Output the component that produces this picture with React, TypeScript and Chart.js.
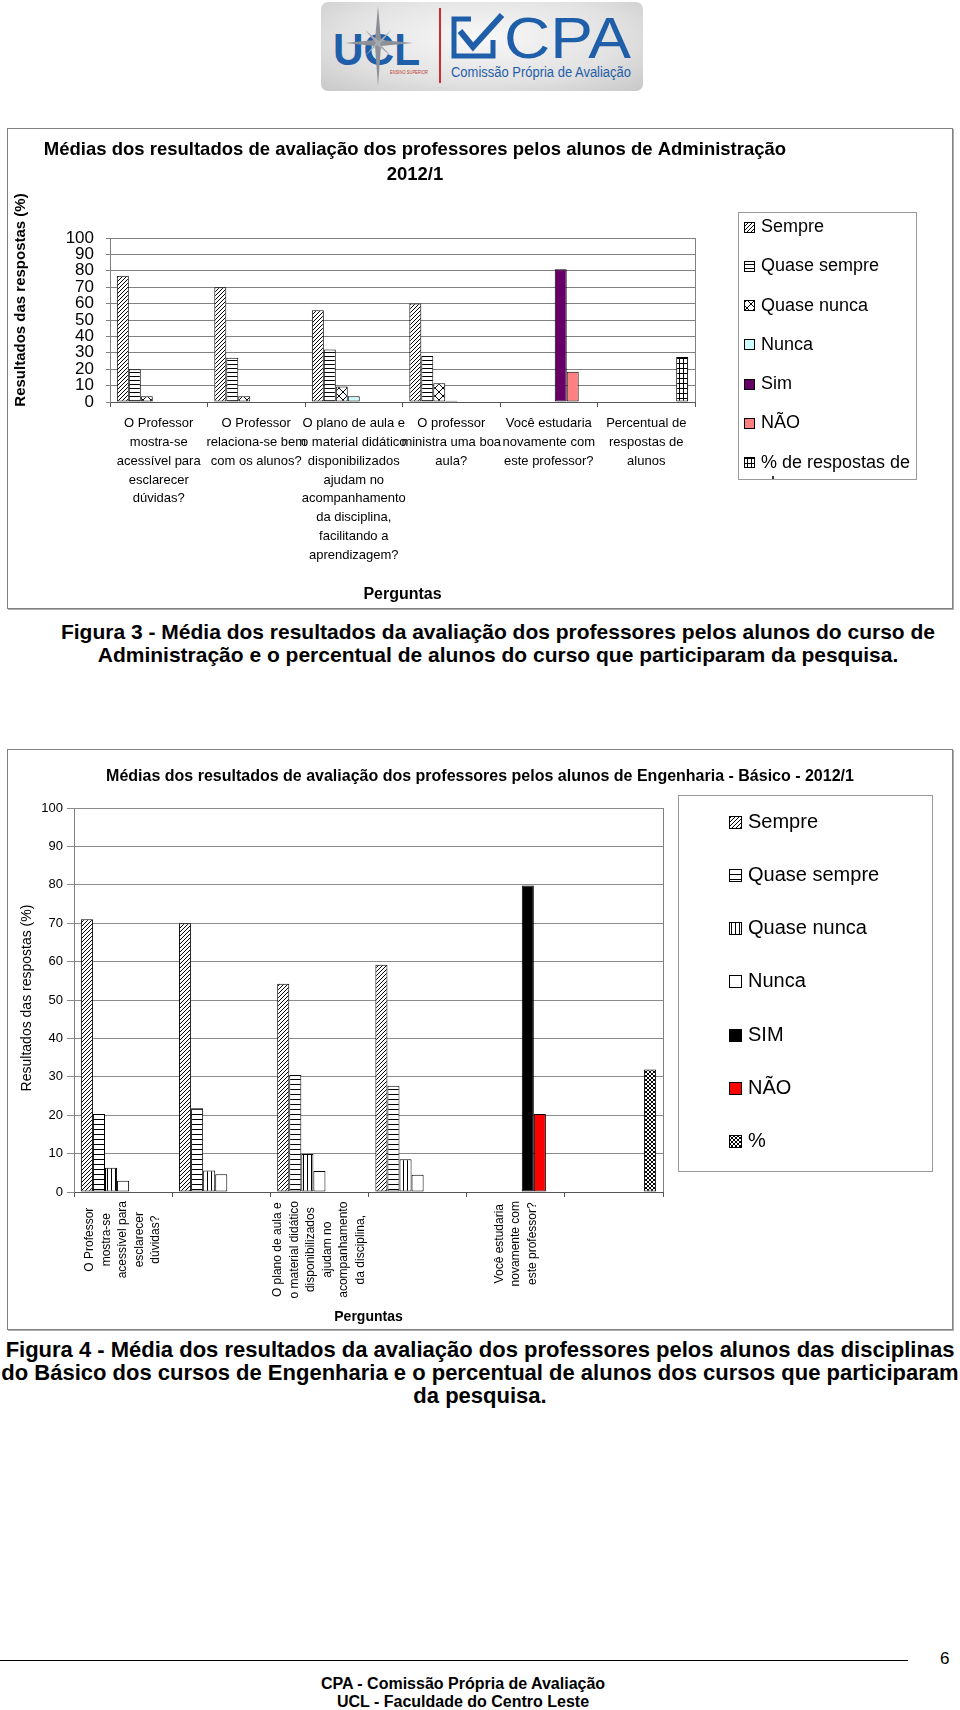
import React, { useEffect, useRef } from 'react';
import { Chart, registerables } from 'chart.js';

Chart.register(...registerables);

const FONT = "'Liberation Sans', Arial, Helvetica, sans-serif";
Chart.defaults.font.family = FONT;
Chart.defaults.color = '#000';

// ---------- Figura 3 : Administração ----------
const adminTitle = ['Médias dos resultados de avaliação dos professores pelos alunos de Administração', '2012/1'];
const adminQuestions: string[][] = [
  ['O Professor', 'mostra-se', 'acessível para', 'esclarecer', 'dúvidas?'],
  ['O Professor', 'relaciona-se bem', 'com os alunos?'],
  ['O plano de aula e', 'o material didático', 'disponibilizados', 'ajudam no', 'acompanhamento', 'da disciplina,', 'facilitando a', 'aprendizagem?'],
  ['O professor', 'ministra uma boa', 'aula?'],
  ['Você estudaria', 'novamente com', 'este professor?'],
  ['Percentual de', 'respostas de', 'alunos'],
];
const adminSeries = ['Sempre', 'Quase sempre', 'Quase nunca', 'Nunca', 'Sim', 'NÃO', '% de respostas de alunos'];
const adminSempre = [77, 70, 56, 60, null, null];
const adminQuaseSempre = [20, 27, 32, 28, null, null];
const adminQuaseNunca = [3.5, 3.5, 9.5, 11.5, null, null];
const adminNunca = [0, 0, 3.5, 0.8, null, null];
const adminSim = [null, null, null, null, 81, null];
const adminNao = [null, null, null, null, 18.5, null];
const adminPerc = [null, null, null, null, null, 27.5];

// ---------- Figura 4 : Engenharia - Básico ----------
const engTitle = ['Médias dos resultados de avaliação dos professores pelos alunos de Engenharia - Básico - 2012/1'];
const engQuestions: string[][] = [
  ['O Professor', 'mostra-se', 'acessível para', 'esclarecer', 'dúvidas?'],
  ['O Professor', 'relaciona-se bem', 'com os alunos?'],
  ['O plano de aula e', 'o material didático', 'disponibilizados', 'ajudam no', 'acompanhamento', 'da disciplina,'],
  ['O professor', 'ministra uma boa', 'aula?'],
  ['Você estudaria', 'novamente com', 'este professor?'],
  ['Percentual de', 'respostas de', 'alunos'],
];
const engShownLabels = [0, 2, 4];
const engSeries = ['Sempre', 'Quase sempre', 'Quase nunca', 'Nunca', 'SIM', 'NÃO', '%'];
const engSempre = [71, 70, 54.2, 59.2, null, null];
const engQuaseSempre = [20.3, 21.8, 30.5, 27.7, null, null];
const engQuaseNunca = [6.3, 5.6, 9.9, 8.5, null, null];
const engNunca = [2.9, 4.6, 5.5, 4.5, null, null];
const engSim = [null, null, null, null, 79.8, null];
const engNao = [null, null, null, null, 20.3, null];
const engPerc = [null, null, null, null, null, 31.9];

const yTitleText = 'Resultados das respostas (%)';
const xTitleText = 'Perguntas';
const yMax = 100;
const yStep = 10;

// ---------- patterns ----------
function pattern(w: number, h: number, paint: (g: CanvasRenderingContext2D) => void, bg = '#fff'): CanvasPattern {
  const c = document.createElement('canvas');
  c.width = w;
  c.height = h;
  const g = c.getContext('2d')!;
  g.fillStyle = bg;
  g.fillRect(0, 0, w, h);
  g.fillStyle = '#000';
  paint(g);
  return g.createPattern(c, 'repeat')!;
}
const diagPat = () => pattern(4, 4, (g) => { for (let i = 0; i < 4; i++) g.fillRect(i, 3 - i, 1, 1); });
const horizPat = (h: number) => pattern(4, h, (g) => g.fillRect(0, 0, 4, 1));
const vertPat = () => pattern(4, 4, (g) => g.fillRect(0, 0, 1, 4));
const crossPat = () => pattern(8, 8, (g) => { for (let i = 0; i < 8; i++) { g.fillRect(i, i, 1, 1); g.fillRect(i, 7 - i, 1, 1); } });
const gridPat = () => pattern(4, 5, (g) => { g.fillRect(0, 0, 4, 1); g.fillRect(0, 0, 1, 5); });
const confettiPat = () => pattern(4, 4, (g) => { g.fillRect(0, 0, 2, 2); g.fillRect(2, 2, 2, 2); });

type Decor = {
  title: string[]; titleX: number; titleY: number; titleLH: number; titleFont: string;
  yTitleX: number; yTitleY: number; yTitleFont: string;
  xTitleY: number; xTitleFont: string;
  legX: number; legY: number; legW: number; legH: number; legFirstY: number; legStep: number;
  swX: number; sw: number; txtX: number; legFont: string; legLH: number;
  rotLabels?: { labels: string[][]; shown: number[]; font: string; step: number; gap: number };
};

function wrap(ctx: CanvasRenderingContext2D, text: string, maxW: number): string[] {
  const words = text.split(' ');
  const lines: string[] = [];
  let cur = '';
  for (const w of words) {
    const t = cur ? cur + ' ' + w : w;
    if (ctx.measureText(t).width > maxW && cur) { lines.push(cur); cur = w; } else cur = t;
  }
  if (cur) lines.push(cur);
  return lines;
}

function decorPlugin(d: Decor) {
  return {
    id: 'decor',
    afterDraw(chart: any) {
      const ctx: CanvasRenderingContext2D = chart.ctx;
      const a = chart.chartArea;
      ctx.save();
      ctx.fillStyle = '#000';
      ctx.textAlign = 'center';
      ctx.textBaseline = 'middle';
      // title
      ctx.font = d.titleFont;
      d.title.forEach((t, i) => ctx.fillText(t, d.titleX, d.titleY + i * d.titleLH));
      // y title
      ctx.save();
      ctx.translate(d.yTitleX, d.yTitleY);
      ctx.rotate(-Math.PI / 2);
      ctx.font = d.yTitleFont;
      ctx.fillText(yTitleText, 0, 0);
      ctx.restore();
      // x title
      ctx.font = d.xTitleFont;
      ctx.fillText(xTitleText, (a.left + a.right) / 2, d.xTitleY);
      // plot right border
      ctx.strokeStyle = '#808080';
      ctx.lineWidth = 1;
      ctx.beginPath();
      const rx = Math.round(a.right) + 0.5;
      ctx.moveTo(rx, a.top);
      ctx.lineTo(rx, a.bottom);
      ctx.stroke();
      // rotated category labels
      if (d.rotLabels) {
        const xs = chart.scales.x;
        const r = d.rotLabels;
        ctx.font = r.font;
        r.shown.forEach((i) => {
          const lines = r.labels[i];
          const cx = xs.getPixelForValue(i);
          const maxW = Math.max(...lines.map((l) => ctx.measureText(l).width));
          const cy = a.bottom + r.gap + maxW / 2;
          lines.forEach((l, j) => {
            ctx.save();
            ctx.translate(cx + (j - (lines.length - 1) / 2) * r.step, cy);
            ctx.rotate(-Math.PI / 2);
            ctx.fillText(l, 0, 0);
            ctx.restore();
          });
        });
      }
      // legend
      ctx.strokeStyle = '#9a9a9a';
      ctx.strokeRect(d.legX + 0.5, d.legY + 0.5, d.legW, d.legH);
      ctx.save();
      ctx.beginPath();
      ctx.rect(d.legX + 1, d.legY + 1, d.legW - 1, d.legH - 1);
      ctx.clip();
      ctx.font = d.legFont;
      ctx.textAlign = 'left';
      chart.data.datasets.forEach((ds: any, i: number) => {
        const y = d.legFirstY + i * d.legStep;
        ctx.fillStyle = ds.backgroundColor;
        ctx.fillRect(d.swX, Math.round(y - d.sw / 2), d.sw, d.sw);
        ctx.strokeStyle = '#000';
        ctx.strokeRect(d.swX + 0.5, Math.round(y - d.sw / 2) + 0.5, d.sw - 1, d.sw - 1);
        ctx.fillStyle = '#000';
        const lines = wrap(ctx, ds.label, d.legX + d.legW - d.txtX - 2);
        lines.forEach((l, k) => ctx.fillText(l, d.txtX, y + k * d.legLH));
      });
      ctx.restore();
      ctx.restore();
    },
  };
}

function buildAdmin(canvas: HTMLCanvasElement): Chart {
  const fills = [diagPat(), horizPat(4), crossPat(), '#ccffff', '#660066', '#ff8080', gridPat()];
  const values = [adminSempre, adminQuaseSempre, adminQuaseNunca, adminNunca, adminSim, adminNao, adminPerc];
  const decor: Decor = {
    title: adminTitle, titleX: 408, titleY: 22, titleLH: 25, titleFont: `bold 18.5px ${FONT}`,
    yTitleX: 14, yTitleY: 172, yTitleFont: `bold 15px ${FONT}`,
    xTitleY: 467, xTitleFont: `bold 16px ${FONT}`,
    legX: 731, legY: 84, legW: 178, legH: 267, legFirstY: 99, legStep: 39.3,
    swX: 737, sw: 11, txtX: 754, legFont: `18px ${FONT}`, legLH: 21,
  };
  return new Chart(canvas, {
    type: 'bar',
    data: {
      labels: adminQuestions,
      datasets: adminSeries.map((name, i) => ({
        label: name,
        data: values[i],
        backgroundColor: fills[i],
        borderColor: '#000',
        borderWidth: 1,
        borderSkipped: false,
        categoryPercentage: 0.86,
        barPercentage: 1,
      })),
    },
    options: {
      responsive: false,
      animation: false,
      devicePixelRatio: 1,
      layout: { padding: { left: 50, right: 258, top: 110, bottom: 0 } },
      plugins: { legend: { display: false }, title: { display: false }, tooltip: { enabled: false } },
      scales: {
        x: {
          grid: { offset: true, drawOnChartArea: false, drawTicks: true, tickLength: 5, color: '#555' },
          border: { color: '#555' },
          ticks: { autoSkip: false, maxRotation: 0, minRotation: 0, padding: 7, color: '#000', font: { size: 13, lineHeight: 1.45 } },
          afterFit: (s: any) => { s.height = 207; },
        },
        y: {
          min: 0, max: yMax,
          ticks: { stepSize: yStep, autoSkip: false, padding: 12, color: '#000', font: { size: 17 } },
          grid: { color: '#808080', tickLength: 4 },
          border: { color: '#808080' },
          afterFit: (s: any) => { s.width = 53; },
        },
      },
    } as any,
    plugins: [decorPlugin(decor)],
  });
}

function buildEng(canvas: HTMLCanvasElement): Chart {
  const fills = [diagPat(), horizPat(5), vertPat(), '#ffffff', '#000000', '#ff0000', confettiPat()];
  const values = [engSempre, engQuaseSempre, engQuaseNunca, engNunca, engSim, engNao, engPerc];
  const decor: Decor = {
    title: engTitle, titleX: 473, titleY: 28, titleLH: 20, titleFont: `bold 16px ${FONT}`,
    yTitleX: 20, yTitleY: 249, yTitleFont: `14px ${FONT}`,
    xTitleY: 568, xTitleFont: `bold 14px ${FONT}`,
    legX: 671, legY: 46, legW: 254, legH: 376, legFirstY: 73, legStep: 53.3,
    swX: 722, sw: 13, txtX: 741, legFont: `20px ${FONT}`, legLH: 23,
    rotLabels: { labels: engQuestions, shown: engShownLabels, font: `12px ${FONT}`, step: 16.5, gap: 9 },
  };
  return new Chart(canvas, {
    type: 'bar',
    data: {
      labels: engQuestions,
      datasets: engSeries.map((name, i) => ({
        label: name,
        data: values[i],
        backgroundColor: fills[i],
        borderColor: '#000',
        borderWidth: 1,
        borderSkipped: false,
        categoryPercentage: 0.86,
        barPercentage: 1,
      })),
    },
    options: {
      responsive: false,
      animation: false,
      devicePixelRatio: 1,
      layout: { padding: { left: 27, right: 290, top: 59, bottom: 0 } },
      plugins: { legend: { display: false }, title: { display: false }, tooltip: { enabled: false } },
      scales: {
        x: {
          grid: { offset: true, drawOnChartArea: false, drawTicks: true, tickLength: 5, color: '#555' },
          border: { color: '#555' },
          ticks: { display: false, autoSkip: false },
          afterFit: (s: any) => { s.height = 138; },
        },
        y: {
          min: 0, max: yMax,
          ticks: { stepSize: yStep, autoSkip: false, padding: 4, color: '#000', font: { size: 13 } },
          grid: { color: '#8c8c8c', tickLength: 7 },
          border: { color: '#808080' },
          afterFit: (s: any) => { s.width = 40; },
        },
      },
    } as any,
    plugins: [decorPlugin(decor)],
  });
}

const abs = (left: number, top: number, extra: React.CSSProperties = {}): React.CSSProperties => ({
  position: 'absolute', left, top, ...extra,
});

export default function App() {
  const c1 = useRef<HTMLCanvasElement>(null);
  const c2 = useRef<HTMLCanvasElement>(null);

  useEffect(() => {
    const charts: Chart[] = [];
    if (c1.current) charts.push(buildAdmin(c1.current));
    if (c2.current) charts.push(buildEng(c2.current));
    return () => charts.forEach((c) => c.destroy());
  }, []);

  const caption: React.CSSProperties = {
    fontFamily: FONT, fontWeight: 'bold', lineHeight: '23px', textAlign: 'center', whiteSpace: 'nowrap', color: '#000',
  };

  return (
    <div style={{ position: 'absolute', left: 0, top: 0, width: 960, height: 1710, overflow: 'hidden', fontFamily: FONT }}>
      {/* logo */}
      <div style={abs(321, 2, { width: 322, height: 89, borderRadius: 7, background: 'radial-gradient(ellipse at 50% 40%, #f8f8f8 0%, #e2e2e2 60%, #c8c8c8 100%)' })}>
        <svg width="322" height="89" style={{ position: 'absolute', left: 0, top: 0 }}>
          <text x="12" y="63" fontFamily={FONT} fontWeight="bold" fontSize="44" fill="#1f5ea8" textLength="87" lengthAdjust="spacingAndGlyphs">UCL</text>
          <polygon points="57,4 60,38 92,41 60,44 57,84 54,44 24,41 54,38" fill="#8d9197" />
          <polygon points="44,28 58,39 70,28 59,42 70,54 56,43 44,54 55,41" fill="#a6aab0" />
          <text x="69" y="72" fontFamily={FONT} fontSize="6" fill="#c0392b" textLength="38" lengthAdjust="spacingAndGlyphs">ENSINO SUPERIOR</text>
          <line x1="119" y1="6" x2="119" y2="81" stroke="#d7282f" strokeWidth="2" />
          <path d="M150 17 H133 V54 H172 V38" fill="none" stroke="#1f5ea8" strokeWidth="5" />
          <path d="M139 29 L152 45 L181 13" fill="none" stroke="#1f5ea8" strokeWidth="6" />
          <text x="183" y="56" fontFamily={FONT} fontSize="58" fill="#1f5ea8" textLength="127" lengthAdjust="spacingAndGlyphs">CPA</text>
          <text x="130" y="75" fontFamily={FONT} fontSize="14" fill="#1f5ea8" textLength="180" lengthAdjust="spacingAndGlyphs">Comissão Própria de Avaliação</text>
        </svg>
      </div>

      {/* chart 1 */}
      <div style={abs(7, 128, { width: 946, height: 481, boxSizing: 'border-box', border: '1px solid #808080', boxShadow: '1px 1px 0 #b0b0b0' })} />
      <canvas ref={c1} width={946} height={481} style={abs(7, 128)} />
      <div style={abs(18, 619.5, { width: 960, fontSize: 21, ...caption })}>
        Figura 3 - Média dos resultados da avaliação dos professores pelos alunos do curso de<br />
        Administração e o percentual de alunos do curso que participaram da pesquisa.
      </div>

      {/* chart 2 */}
      <div style={abs(7, 749, { width: 946, height: 581, boxSizing: 'border-box', border: '1px solid #808080', boxShadow: '1px 1px 0 #b0b0b0' })} />
      <canvas ref={c2} width={946} height={581} style={abs(7, 749)} />
      <div style={abs(0, 1337.5, { width: 960, fontSize: 22, ...caption })}>
        Figura 4 - Média dos resultados da avaliação dos professores pelos alunos das disciplinas<br />
        do Básico dos cursos de Engenharia e o percentual de alunos dos cursos que participaram<br />
        da pesquisa.
      </div>

      {/* footer */}
      <div style={abs(0, 1660, { width: 908, height: 1, background: '#000' })} />
      <div style={abs(940, 1649, { fontFamily: FONT, fontSize: 17, lineHeight: '20px', color: '#000' })}>6</div>
      <div style={abs(0, 1675, { width: 926, fontFamily: FONT, fontWeight: 'bold', fontSize: 16, lineHeight: '18px', textAlign: 'center', color: '#000' })}>
        CPA - Comissão Própria de Avaliação<br />
        UCL - Faculdade do Centro Leste
      </div>
    </div>
  );
}
